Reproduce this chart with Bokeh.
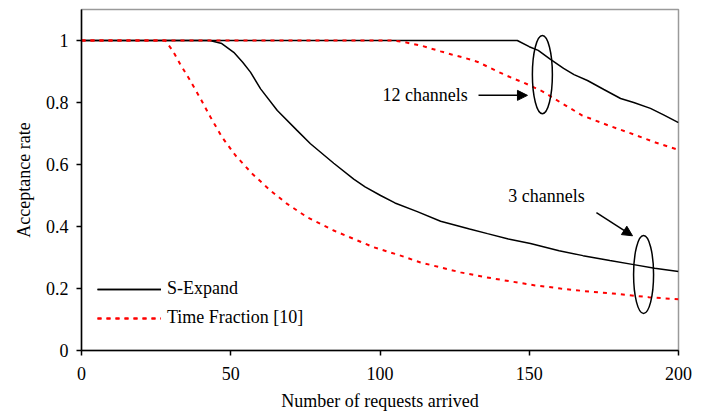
from bokeh.plotting import figure
from bokeh.models import Range1d, Legend, LegendItem, Label, Arrow, NormalHead, FixedTicker
from bokeh.embed import file_html
from bokeh.resources import INLINE

# S-Expand, 3 channels
sx3_x = [0, 43, 47, 51, 54, 56.6, 60, 65.6, 72.2, 76.7, 84.5, 91.2, 95, 100.2, 105, 112.5, 120.3, 130, 136, 143, 150.4, 160, 168, 177, 185, 192, 200]
sx3_y = [1, 1, 0.99, 0.962, 0.93, 0.898, 0.844, 0.774, 0.71, 0.667, 0.604, 0.553, 0.528, 0.5, 0.476, 0.448, 0.417, 0.392, 0.377, 0.36, 0.345, 0.322, 0.306, 0.29, 0.277, 0.265, 0.255]

# Time Fraction, 3 channels
tf3_x = [0, 28, 30.5, 33, 36.2, 39.9, 43.2, 47.1, 51.6, 57.2, 63.3, 68.9, 75.6, 84.5, 91.2, 97.9, 106.9, 113.6, 120.3, 127, 135, 143.7, 152, 160.5, 170, 178, 190, 200]
tf3_y = [1, 1, 0.968, 0.925, 0.874, 0.812, 0.753, 0.688, 0.629, 0.57, 0.516, 0.473, 0.43, 0.387, 0.36, 0.333, 0.306, 0.284, 0.268, 0.252, 0.237, 0.223, 0.21, 0.2, 0.19, 0.184, 0.172, 0.165]

# S-Expand, 12 channels
sx12_x = [0, 146, 150, 153, 157, 161.5, 165, 169.5, 175, 180.6, 185, 190.6, 195, 200]
sx12_y = [1, 1, 0.98, 0.968, 0.94, 0.91, 0.89, 0.871, 0.842, 0.813, 0.8, 0.781, 0.76, 0.735]

# Time Fraction, 12 channels
tf12_x = [0, 104, 108, 113.6, 120.3, 124, 128, 133, 138.7, 144.7, 148, 154.4, 160.5, 167.8, 176.5, 183.3, 192.3, 200]
tf12_y = [1, 1, 0.995, 0.984, 0.965, 0.955, 0.945, 0.93, 0.903, 0.877, 0.865, 0.836, 0.8, 0.758, 0.726, 0.703, 0.671, 0.647]

x_ticks = [0, 50, 100, 150, 200]
y_ticks = [0, 0.2, 0.4, 0.6, 0.8, 1]
y_tick_labels = {0: "0", 0.2: "0.2", 0.4: "0.4", 0.6: "0.6", 0.8: "0.8", 1: "1"}

FONT = "Liberation Serif"
FS = "18px"

p = figure(width=705, height=413, output_backend="svg", toolbar_location=None,
           x_range=Range1d(0, 200), y_range=Range1d(0, 1.1),
           min_border_left=81, min_border_right=27, min_border_top=9, min_border_bottom=63)
p.background_fill_color = "white"
p.outline_line_color = "#9a9a9a"
p.outline_line_width = 1.5
p.xgrid.visible = False
p.ygrid.visible = False

for ax in (p.xaxis[0], p.yaxis[0]):
    ax.axis_line_color = "black"
    ax.axis_line_width = 1.5
    ax.major_tick_line_color = "black"
    ax.major_tick_line_width = 1.5
    ax.major_tick_out = 5
    ax.major_tick_in = 0
    ax.minor_tick_line_color = None
    ax.major_label_text_font = FONT
    ax.major_label_text_font_size = FS
    ax.major_label_text_color = "black"
    ax.axis_label_text_font = FONT
    ax.axis_label_text_font_size = FS
    ax.axis_label_text_font_style = "normal"
    ax.axis_label_text_color = "black"

p.xaxis[0].ticker = FixedTicker(ticks=x_ticks)
p.yaxis[0].ticker = FixedTicker(ticks=y_ticks)
p.yaxis[0].major_label_overrides = y_tick_labels
p.xaxis[0].major_label_standoff = 11
p.yaxis[0].major_label_standoff = 8
p.xaxis[0].axis_label = "Number of requests arrived"
p.yaxis[0].axis_label = "Acceptance rate"
p.xaxis[0].axis_label_standoff = 8
p.yaxis[0].axis_label_standoff = 9

r_sx3 = p.line(sx3_x, sx3_y, line_color="black", line_width=1.5)
r_sx12 = p.line(sx12_x, sx12_y, line_color="black", line_width=1.5)
r_tf3 = p.line(tf3_x, tf3_y, line_color="#ff0000", line_width=2, line_dash="4 5")
r_tf12 = p.line(tf12_x, tf12_y, line_color="#ff0000", line_width=2, line_dash="4 5")

legend = Legend(items=[
    LegendItem(label="S-Expand", renderers=[r_sx3, r_sx12]),
    LegendItem(label="Time Fraction [10]", renderers=[r_tf3, r_tf12]),
], location=(16, 22))
legend.border_line_color = None
legend.background_fill_alpha = 0
legend.padding = 0
legend.margin = 0
legend.spacing = 8
legend.glyph_width = 64
legend.glyph_height = 20
legend.label_height = 20
legend.label_standoff = 6
legend.label_text_font = FONT
legend.label_text_font_size = FS
legend.label_text_color = "black"
p.add_layout(legend, "center")

# annotations: ellipses, arrows, texts
ell_x = [154.4, 188.3]
ell_y = [0.89, 0.245]
p.ellipse(x=ell_x, y=ell_y, width=6.7, height=0.252, fill_color=None, line_color="black", line_width=1.5)

p.add_layout(Arrow(end=NormalHead(size=10, fill_color="black", line_color="black"),
                   x_start=133, y_start=0.823, x_end=149.4, y_end=0.823,
                   line_color="black", line_width=1.5))
p.add_layout(Arrow(end=NormalHead(size=10, fill_color="black", line_color="black"),
                   x_start=172.5, y_start=0.445, x_end=184.6, y_end=0.37,
                   line_color="black", line_width=1.5))

p.add_layout(Label(x=100.8, y=0.823, text="12 channels", text_font=FONT, text_font_size=FS,
                   text_baseline="middle", text_align="left", text_color="black"))
p.add_layout(Label(x=143, y=0.5, text="3 channels", text_font=FONT, text_font_size=FS,
                   text_baseline="middle", text_align="left", text_color="black"))

open("out.html", "w").write(file_html(p, INLINE))
